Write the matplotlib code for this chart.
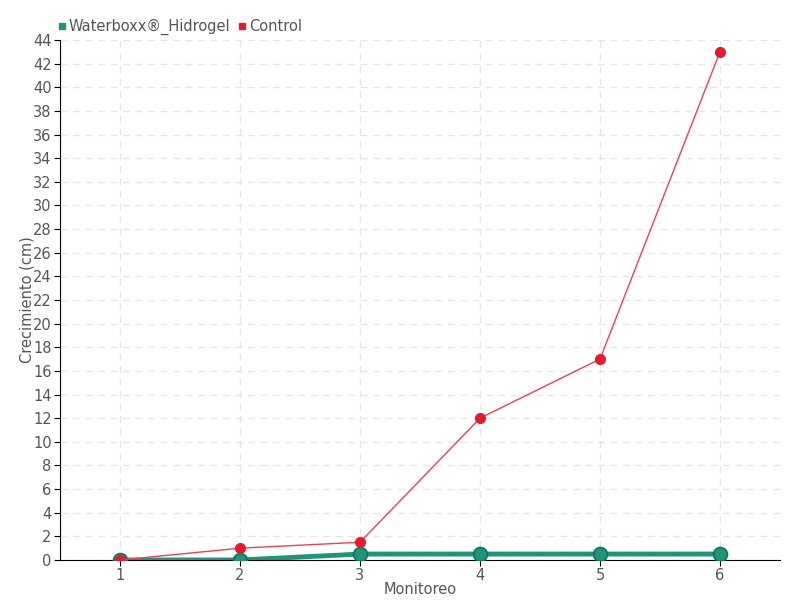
import matplotlib.pyplot as plt
import numpy as np

monitoreo = [1, 2, 3, 4, 5, 6]
waterboxx = [0, 0, 0.5, 0.5, 0.5, 0.5]
control = [0, 1, 1.5, 12, 17, 43]

plt.rcParams['font.family'] = ['DejaVu Sans']
txt = '#555555'

fig = plt.figure(figsize=(8, 6), dpi=100)
ax = fig.add_axes([0.075, 0.0667, 0.9, 0.8667])

ax.plot(monitoreo, waterboxx, color='#1b967a', lw=3.5, marker='o', ms=10,
        mfc='#1b967a', mec='#13705a', mew=1.2, zorder=3, label='Waterboxx®_Hidrogel')
ax.plot(monitoreo, control, color='#f0404f', lw=1, marker='o', ms=7,
        mfc='#e8192c', mec='#e8192c', zorder=4, label='Control')

ax.set_xlim(0.5, 6.5)
ax.set_ylim(0, 44)
ax.set_yticks(np.arange(0, 45, 2))
ax.set_xticks(monitoreo)
ax.grid(True, color='#e6e6e6', ls=(0, (5, 4)), lw=1)
ax.set_axisbelow(True)
for s in ['top', 'right']:
    ax.spines[s].set_visible(False)
ax.tick_params(colors=txt, labelsize=10.5, length=4, pad=2)
ax.tick_params(axis='both', color='black')
ax.set_xlabel('Monitoreo', color=txt, fontsize=10.5, labelpad=-1)
ax.set_ylabel('Crecimiento (cm)', color=txt, fontsize=10.5, labelpad=-1)

h1 = plt.Line2D([], [], ls='none', marker='s', ms=5, color='#1b967a')
h2 = plt.Line2D([], [], ls='none', marker='s', ms=5, color='#e8192c')
fig.legend([h1, h2], ['Waterboxx®_Hidrogel', 'Control'], loc='upper left',
           bbox_to_anchor=(0.055, 0.99), ncol=2, frameon=False, fontsize=10.5,
           handlelength=0.6, handletextpad=0.2, columnspacing=0.5, labelcolor=txt)

fig.savefig('out.png')
